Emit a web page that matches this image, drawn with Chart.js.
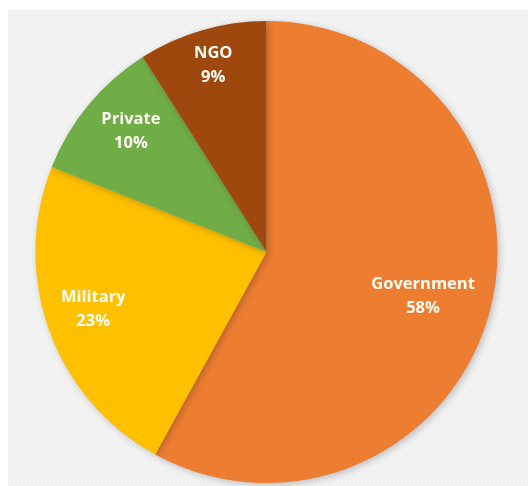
<!DOCTYPE html>
<html>
<head>
<meta charset="utf-8">
<script src="https://cdn.jsdelivr.net/npm/chart.js@4/dist/chart.umd.min.js"></script>
<style>
  html, body { margin: 0; padding: 0; background: #ffffff; }
  #wrap { width: 528px; height: 486px; position: relative; }
</style>
</head>
<body>
<div id="wrap"><canvas id="chart" width="528" height="486"></canvas></div>
<script>
// Sector shares (percent)
const categories = ['Government', 'Military', 'Private', 'NGO'];
const shares = [58, 23, 10, 9];
const sliceColors = ['#ED7D31', '#FFC000', '#70AD47', '#9E480E'];

// Label placement inside each slice: distance as a fraction of the radius,
// and a small turn (degrees) away from the slice's mid angle
const labelRadiusFactor = [0.704, 0.79, 0.785, 0.842];
const labelAngleNudge = [1.3, 1.5, 2.0, 0.3];

// Light grey panel with a faint diagonal weave behind the pie
function makeHatch(ctx) {
  const c = document.createElement('canvas');
  c.width = 4; c.height = 4;
  const p = c.getContext('2d');
  p.fillStyle = '#f4f4f4';
  p.fillRect(0, 0, 4, 4);
  p.fillStyle = '#ebebeb';
  for (let i = 0; i < 4; i++) p.fillRect(i, i, 1, 1);
  return ctx.createPattern(c, 'repeat');
}

const panelPlugin = {
  id: 'panel',
  beforeDraw(chart) {
    const ctx = chart.ctx;
    ctx.save();
    ctx.fillStyle = '#ffffff';
    ctx.fillRect(0, 0, chart.width, chart.height);
    ctx.fillStyle = makeHatch(ctx);
    ctx.fillRect(8, 10, chart.width - 8, chart.height - 10);
    ctx.restore();
  }
};

// Soft drop shadow under the slices
const shadowPlugin = {
  id: 'sliceShadow',
  beforeDatasetsDraw(chart) {
    const ctx = chart.ctx;
    ctx.save();
    ctx.shadowColor = 'rgba(0,0,0,0.22)';
    ctx.shadowBlur = 7;
    ctx.shadowOffsetX = 2;
    ctx.shadowOffsetY = 2;
  },
  afterDatasetsDraw(chart) {
    chart.ctx.restore();
  }
};

// Category name and percentage printed inside each slice
const sliceLabelPlugin = {
  id: 'sliceLabels',
  afterDatasetsDraw(chart) {
    const ctx = chart.ctx;
    const meta = chart.getDatasetMeta(0);
    ctx.save();
    ctx.fillStyle = '#fffdf6';
    ctx.font = 'bold 16.5px "Open Sans", sans-serif';
    ctx.textAlign = 'center';
    ctx.textBaseline = 'middle';
    meta.data.forEach((arc, i) => {
      const p = arc.getProps(['x', 'y', 'startAngle', 'endAngle', 'outerRadius'], true);
      const mid = (p.startAngle + p.endAngle) / 2 + labelAngleNudge[i] * Math.PI / 180;
      const r = p.outerRadius * labelRadiusFactor[i];
      const cx = p.x + Math.cos(mid) * r;
      const cy = p.y + Math.sin(mid) * r;
      const value = chart.data.datasets[0].data[i];
      ctx.fillText(chart.data.labels[i], cx, cy - 12);
      ctx.fillText(value + '%', cx, cy + 12);
    });
    ctx.restore();
  }
};

new Chart(document.getElementById('chart'), {
  type: 'pie',
  data: {
    labels: categories,
    datasets: [{
      data: shares,
      backgroundColor: sliceColors,
      borderWidth: 0
    }]
  },
  options: {
    responsive: false,
    animation: false,
    layout: { padding: { left: 35.5, right: 30.5, top: 21, bottom: 3 } },
    plugins: {
      legend: { display: false },
      tooltip: { enabled: false }
    }
  },
  plugins: [panelPlugin, shadowPlugin, sliceLabelPlugin]
});
</script>
</body>
</html>
